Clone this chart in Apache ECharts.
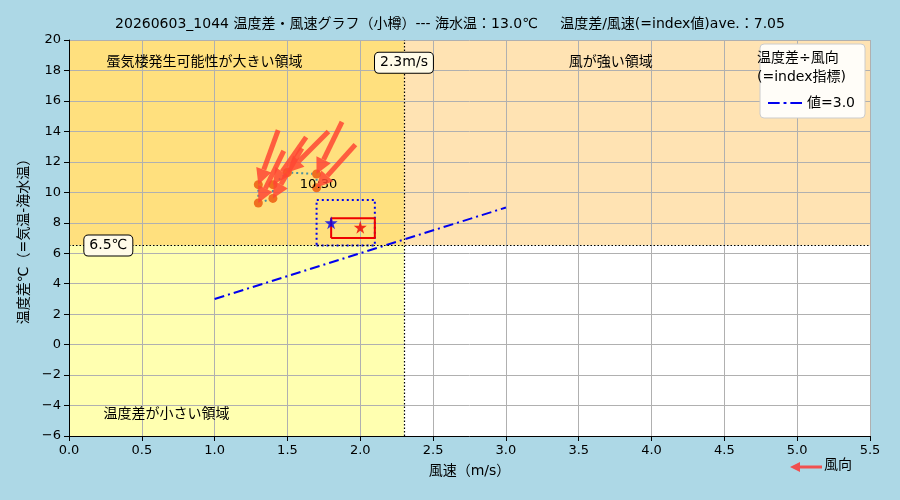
<!DOCTYPE html>
<html><head><meta charset="utf-8">
<script src="https://cdn.jsdelivr.net/npm/echarts@6/dist/echarts.min.js"></script>
<style>html,body{margin:0;background:#add8e6}#c{width:900px;height:500px}</style>
</head><body><div id="c"></div>
<script>
// 観測点（風速, 温度差）
const windSpeed = [1.30, 1.30, 1.40, 1.40, 1.50, 1.70, 1.70];
const tempDiff  = [10.5, 9.3, 9.6, 10.5, 11.3, 11.2, 10.3];
// 矢印の向き（度、右向き=0, 上向き=90）
const arrowDir  = [70, 64, 60, 55, 45, 64, 48];
const indexLine = [[1.0, 3.0], [3.0, 9.0]];
const aveStar = [1.8, 8.0];
const nowStar = [2.0, 7.7];
const redBox = [[1.8, 7.0], [2.1, 8.3]];
const blueBox = [[1.7, 6.5], [2.1, 9.5]];
const windLimit = 2.3, tempLimit = 6.5;
const FONT = 'DejaVu Sans, Noto Sans CJK JP';

const chart = echarts.init(document.getElementById('c'));
const pts = windSpeed.map((w, i) => [w, tempDiff[i], arrowDir[i]]);
function rectSeries(box, color, type) {
  const [a, b] = box;
  return { type: 'line', data: [[a[0],a[1]],[b[0],a[1]],[b[0],b[1]],[a[0],b[1]],[a[0],a[1]]],
    symbol: 'none', lineStyle: { color: color, width: 2, type: type }, z: 4, silent: true };
}
const boxLabel = t => ({ show: true, formatter: t, color: '#000', fontSize: 14, backgroundColor: '#fffbe8', borderColor: '#000', borderWidth: 1, borderRadius: 4, padding: [3, 5] });
const plainLabel = t => ({ show: true, formatter: t, color: '#000', fontSize: 14 });
chart.setOption({
  backgroundColor: '#add8e6',
  textStyle: { fontFamily: FONT },
  title: { text: '20260603_1044 温度差・風速グラフ（小樽）--- 海水温：13.0℃     温度差/風速(=index値)ave.：7.05',
    left: 'center', top: 12, textStyle: { fontSize: 14, fontWeight: 'normal', color: '#000', fontFamily: FONT } },
  grid: { left: 69, right: 30, top: 40, bottom: 64 },
  xAxis: { type: 'value', z: 3, min: 0, max: 5.5, interval: 0.5, name: '風速（m/s）', nameLocation: 'middle', nameGap: 28,
    nameTextStyle: { fontSize: 14, color: '#000' },
    axisLine: { onZero: false, lineStyle: { color: '#000' } }, axisTick: { lineStyle: { color: '#000' } },
    axisLabel: { color: '#000', fontSize: 13, formatter: v => v.toFixed(1) },
    splitLine: { lineStyle: { color: '#b0b0b0' } } },
  yAxis: { type: 'value', z: 3, min: -6, max: 20, interval: 2, name: '温度差℃（=気温-海水温）', nameLocation: 'middle', nameGap: 36,
    nameTextStyle: { fontSize: 14, color: '#000' },
    axisLine: { show: true, onZero: false, lineStyle: { color: '#000' } }, axisTick: { show: true, lineStyle: { color: '#000' } },
    axisLabel: { color: '#000', fontSize: 13, formatter: v => v < 0 ? '−' + (-v) : v },
    splitLine: { lineStyle: { color: '#b0b0b0' } } },
  legend: { right: 35, top: 44, orient: 'vertical', backgroundColor: '#fffdf8', borderColor: '#ccc', borderWidth: 1, borderRadius: 4,
    padding: [52, 10, 8, 8], itemWidth: 34, itemHeight: 3,
    data: [{ name: '値=3.0', icon: 'path://M0,0h12v2h-12z M16,0h3v2h-3z M23,0h12v2h-12z', itemStyle: { color: '#0000ee' } }],
    textStyle: { fontSize: 14, color: '#000' } },
  graphic: [{ type: 'text', left: 757, top: 49, z: 100, style: { text: '温度差÷風向\n(=index指標)', fontSize: 14, lineHeight: 19, fill: '#000', fontFamily: FONT } },
    { type: 'text', left: 824, top: 458, style: { text: '風向', fontSize: 14, fill: '#000', fontFamily: FONT } },
    { type: 'line', shape: { x1: 822, y1: 467, x2: 798, y2: 467 }, style: { stroke: '#f05050', lineWidth: 3 } },
    { type: 'polygon', shape: { points: [[790, 467], [800, 462], [800, 472]] }, style: { fill: '#f05050' } }],
  series: [
    { type: 'line', data: [], silent: true, z: 1,
      markArea: { silent: true, data: [
        [{ coord: [0, tempLimit], itemStyle: { color: '#ffe07e' } }, { coord: [windLimit, 20] }],
        [{ coord: [windLimit, tempLimit], itemStyle: { color: '#ffe3b3' } }, { coord: [5.5, 20] }],
        [{ coord: [0, -6], itemStyle: { color: '#ffffb0' } }, { coord: [windLimit, tempLimit] }],
        [{ coord: [windLimit, -6], itemStyle: { color: '#ffffff' } }, { coord: [5.5, tempLimit] }] ] } },
    { type: 'line', data: [], silent: true, z: 4,
      markLine: { silent: true, symbol: 'none', label: { show: false }, lineStyle: { color: '#000', type: [1.5, 2], width: 1.2 },
        data: [{ xAxis: windLimit }, { yAxis: tempLimit }] } },
    { type: 'scatter', data: [], silent: true, z: 8,
      markPoint: { symbol: 'rect', symbolSize: 0, data: [
        { coord: [0.93, 18.5], label: plainLabel('蜃気楼発生可能性が大きい領域') },
        { coord: [3.72, 18.5], label: plainLabel('風が強い領域') },
        { coord: [0.67, -4.6], label: plainLabel('温度差が小さい領域') },
        { coord: [2.3, 18.5], label: boxLabel('2.3m/s') },
        { coord: [0.27, 6.5], label: boxLabel('6.5℃') } ] } },
    { name: '値=3.0', type: 'line', data: indexLine, symbol: 'none', lineStyle: { color: '#0000ee', width: 2, type: [10, 4, 2, 4] }, itemStyle: { color: '#0000ee' }, z: 4 },
    rectSeries(blueBox, '#0000ee', [2, 3]),
    rectSeries(redBox, '#ee0000', 'solid'),
    { type: 'line', data: pts.map(p => [p[0], p[1]]), symbol: 'circle', symbolSize: 9, itemStyle: { color: '#f07020' },
      lineStyle: { color: '#4a90a0', type: [2, 3], width: 2 }, z: 5,
      label: { show: true, formatter: p => p.dataIndex === pts.length - 1 ? '10:30' : '', position: 'inside', offset: [2, -3], color: '#000', fontSize: 13 } },
    { type: 'custom', z: 6, silent: true, data: pts,
      renderItem: (params, api) => {
        const head = api.coord([api.value(0), api.value(1)]);
        const a = api.value(2) * Math.PI / 180, L = 58;
        const tail = [head[0] + L * Math.cos(a), head[1] - L * Math.sin(a)];
        const ux = Math.cos(a), uy = -Math.sin(a), hl = 16, hw = 8;
        const base = [head[0] + ux * hl, head[1] + uy * hl];
        return { type: 'group', children: [
          { type: 'line', shape: { x1: tail[0], y1: tail[1], x2: base[0], y2: base[1] }, style: { stroke: 'rgba(255,70,50,0.85)', lineWidth: 5 } },
          { type: 'polygon', shape: { points: [head, [base[0] - uy * hw, base[1] + ux * hw], [base[0] + uy * hw, base[1] - ux * hw]] }, style: { fill: 'rgba(255,70,50,0.85)' } } ] };
      } },
    { type: 'scatter', data: [aveStar], symbol: 'path://M50,0 L61,35 98,35 68,57 79,91 50,70 21,91 32,57 2,35 39,35Z', symbolSize: 13, itemStyle: { color: '#0000ee' }, z: 7 },
    { type: 'scatter', data: [nowStar], symbol: 'path://M50,0 L61,35 98,35 68,57 79,91 50,70 21,91 32,57 2,35 39,35Z', symbolSize: 13, itemStyle: { color: '#ee0000' }, z: 7 }
  ]
});
</script></body></html>
